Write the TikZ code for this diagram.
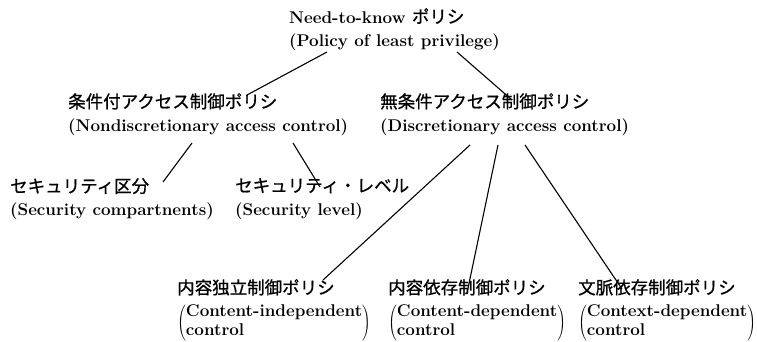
\documentclass[tikz,border=0pt]{standalone}
\usepackage{fontspec}
\newfontfamily\jp[FakeBold=0.8]{Noto Sans CJK JP}
\tikzset{
  box/.style={anchor=north west, inner sep=0pt, align=left,
    font=\fontsize{17}{23}\selectfont\bfseries},
  link/.style={line width=1.1pt},
}
\newcommand\J[1]{{\jp\mdseries\fontsize{17.5}{23}\selectfont #1}}
\newcommand\PB[2]{\raisebox{-9.95pt}[13.3pt][24.7pt]{\fontsize{17}{19}\selectfont$\left(\begin{tabular}{@{}l@{}}#1\\#2\end{tabular}\right)$}}
\begin{document}
\begin{tikzpicture}[x=1pt,y=1pt]
\useasboundingbox (0,0) rectangle (757,341);
\node[box] (top) at (289,333) {Need-to-know \J{ポリシ}\\(Policy of least privilege)};
\node[box] (nd) at (68,248) {\J{条件付アクセス制御ポリシ}\\(Nondiscretionary access control)};
\node[box] (d) at (380,248) {\J{無条件アクセス制御ポリシ}\\(Discretionary access control)};
\node[box] (sc) at (10,163) {\J{セキュリティ区分}\\(Security compartnents)};
\node[box] (sl) at (235,163) {\J{セキュリティ・レベル}\\(Security level)};
\node[box] (b1) at (177,62) {\J{内容独立制御ポリシ}\\\PB{Content-independent}{control}};
\node[box] (b2) at (388,62) {\J{内容依存制御ポリシ}\\\PB{Content-dependent}{control}};
\node[box] (b3) at (578,62) {\J{文脈依存制御ポリシ}\\\PB{Context-dependent}{control}};
\draw[link] ([shift={(38,-44)}]top.north west) -- ([shift={(179,-2)}]nd.north west);
\draw[link] ([shift={(168,-44)}]top.north west) -- ([shift={(132,-7)}]d.north west);
\draw[link] ([shift={(124,-50)}]nd.north west) -- ([shift={(153,-4)}]sc.north west);
\draw[link] ([shift={(225,-50)}]nd.north west) -- ([shift={(85,-9)}]sl.north west);
\draw[link] ([shift={(90,-52)}]d.north west) -- ([shift={(146,-1)}]b1.north west);
\draw[link] ([shift={(118,-52)}]d.north west) -- ([shift={(79,-14)}]b2.north west);
\draw[link] ([shift={(145,-52)}]d.north west) -- ([shift={(44,-10)}]b3.north west);
\end{tikzpicture}
\end{document}
